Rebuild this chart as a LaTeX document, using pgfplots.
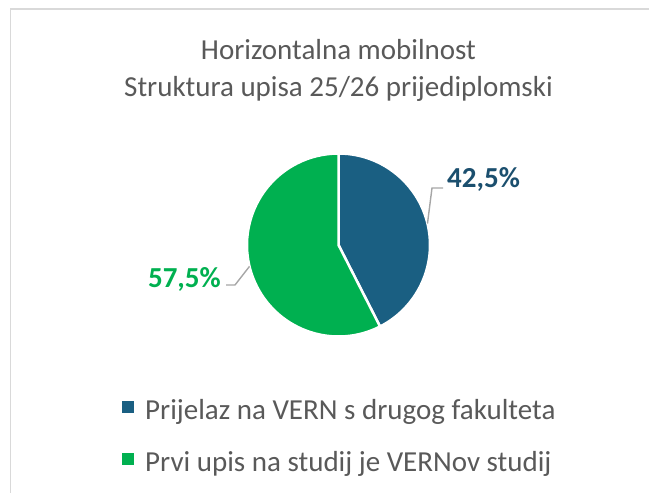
\documentclass[border=0pt]{standalone}
\usepackage{fontspec}
\setmainfont{Carlito}
\usepackage{pgfplots}
\usepackage{pgfplotstable}
\pgfplotsset{compat=1.18}

\definecolor{vernblue}{HTML}{1A5F82}
\definecolor{vernbluedark}{HTML}{1B4F6E}
\definecolor{verngreen}{HTML}{00B050}
\definecolor{txtgray}{HTML}{595959}
\definecolor{framegray}{HTML}{D9D9D9}
\definecolor{leadergray}{HTML}{A6A6A6}

% share of enrolment (%)
\pgfplotstableread{
share
42.5
57.5
}\sharetable

\begin{document}
\begin{tikzpicture}[x=1pt,y=1pt]
\pgfplotstablegetelem{0}{share}\of\sharetable \let\va\pgfplotsretval
\pgfplotstablegetelem{1}{share}\of\sharetable \let\vb\pgfplotsretval
\def\R{91.5}
\pgfmathsetmacro\cut{90-3.6*\va}
\pgfmathsetmacro\mida{90-1.8*\va}
\pgfmathsetmacro\midb{\cut-1.8*\vb}
\pgfmathsetmacro\cutx{\R*cos(\cut)}
\pgfmathsetmacro\cuty{\R*sin(\cut)}
\pgfmathsetmacro\ax{\R*cos(\mida)}
\pgfmathsetmacro\ay{\R*sin(\mida)}
\pgfmathsetmacro\bx{\R*cos(\midb)}
\pgfmathsetmacro\by{\R*sin(\midb)}
\useasboundingbox (0,0) rectangle (649,493);
\draw[framegray, line width=1.3pt] (10.5,-2) -- (10.5,484) -- (651,484);

\node[txtgray, font=\fontsize{29}{36}\selectfont, anchor=base] at (338.5,433) {Horizontalna mobilnost};
\node[txtgray, font=\fontsize{29}{36}\selectfont, anchor=base] at (338.5,396) {Struktura upisa 25/26 prijediplomski};

\begin{axis}[
    x=1pt, y=1pt,
    xmin=-100, xmax=100, ymin=-100, ymax=100,
    anchor=center, at={(338.5,248)},
    hide axis,
    clip=false,
    legend image code/.code={\path[draw=none, fill=none] (0pt,0pt) -- (23pt,0pt); \fill[#1, draw=none] (0pt,-0.5pt) rectangle (12pt,11pt);},
    legend style={
        at={(axis cs:-216.5,-153)}, anchor=north west,
        draw=none, fill=none, inner sep=0pt,
        font=\fontsize{29}{36}\selectfont,
        text=txtgray,
        cells={anchor=west},
        nodes={inner sep=0pt, text height=21pt, text depth=7pt},
        row sep=24pt,
    },
]
\fill[vernblue, draw=white, line width=2.5pt, line join=round]
    (axis cs:0,0) -- (axis cs:0,\R) arc[start angle=90, end angle=\cut, radius=\R pt] -- cycle;
\fill[verngreen, draw=white, line width=2.5pt, line join=round]
    (axis cs:0,0) -- (axis cs:\cutx,\cuty) arc[start angle=\cut, end angle=-270, radius=\R pt] -- cycle;

% leader lines
\draw[leadergray, line width=1.4pt]
    (axis cs:\ax,\ay) -- (axis cs:93.5,57) -- (axis cs:104.5,57);
\draw[leadergray, line width=1.4pt]
    (axis cs:\bx,\by) -- (axis cs:-103.5,-40) -- (axis cs:-112.5,-40);

\node[vernbluedark, font=\fontsize{29}{36}\selectfont\bfseries, anchor=base west, inner sep=0pt]
    at (axis cs:108.5,57) {\pgfmathprintnumber[fixed, fixed zerofill, precision=1, use comma, assume math mode=true]{\va}\%};
\node[verngreen, font=\fontsize{29}{36}\selectfont\bfseries, anchor=base east, inner sep=0pt]
    at (axis cs:-117.5,-43) {\pgfmathprintnumber[fixed, fixed zerofill, precision=1, use comma, assume math mode=true]{\vb}\%};

\addlegendimage{vernblue}
\addlegendentry{Prijelaz na VERN s drugog fakulteta}
\addlegendimage{verngreen}
\addlegendentry{Prvi upis na studij je VERNov studij}
\end{axis}
\end{tikzpicture}
\end{document}
